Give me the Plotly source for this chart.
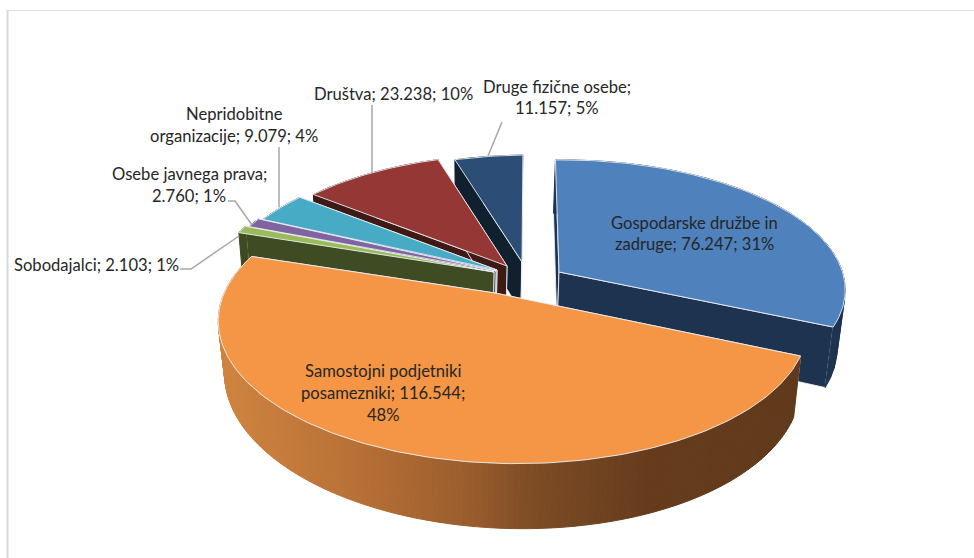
import numpy as np
import plotly.graph_objects as go

# ---------- data ----------
categories = ["Gospodarske družbe in zadruge", "Samostojni podjetniki posamezniki", "Sobodajalci",
              "Osebe javnega prava", "Nepridobitne organizacije", "Društva", "Druge fizične osebe"]
values = [76247, 116544, 2103, 2760, 9079, 23238, 11157]
label_lines = [["Gospodarske družbe in", "zadruge; 76.247; 31%"],
               ["Samostojni podjetniki", "posamezniki; 116.544;", "48%"],
               ["Sobodajalci; 2.103; 1%"],
               ["Osebe javnega prava;", "2.760; 1%"],
               ["Nepridobitne", "organizacije; 9.079; 4%"],
               ["Društva; 23.238; 10%"],
               ["Druge fizične osebe;", "11.157; 5%"]]

# ---------- styling / layout ----------
top_colors = ["#4f81bd", "#f49645", "#9bbb59", "#8064a2", "#47abc6", "#953735", "#2c4d75"]
wall_colors = ["#1d3350", "#623b1d", "#3f4b23", "#2f2440", "#1f4d5a", "#3f1a14", "#10202f"]
# per-slice perspective: apex x,y; half axes B,A; perspective k,q; skew e; depth D; bottom shrink m; bottom shift s
geom = [
    dict(ax=559, ay=272, B=275, A=125.7, k=.122, q=.03, e=4, D=57, m=.022, s=-2),
    dict(ax=495, ay=293, B=287, A=134, k=.213, q=.06, e=0, D=54, m=.023, s=0),
    dict(ax=494, ay=272, B=288, A=138, k=.15, q=.03, e=0, D=50, m=.02, s=-1),
    dict(ax=496, ay=271, B=286, A=134, k=.15, q=.03, e=0, D=50, m=.02, s=-1),
    dict(ax=497, ay=270, B=282, A=130, k=.15, q=.03, e=0, D=50, m=.02, s=-1),
    dict(ax=507, ay=266, B=277, A=128, k=.15, q=.03, e=0, D=50, m=.02, s=-1),
    dict(ax=522, ay=262, B=273, A=123, k=.15, q=.03, e=-1, D=50, m=.02, s=-1),
]
paint_order = [6, 5, 4, 3, 2, 0, 1]
label_pos = {0: [(694, 223), (694, 244)],
             1: [(383, 371), (383, 393), (383, 415)],
             2: [(96, 265)],
             3: [(189, 174), (189, 196)],
             4: [(234, 114), (234, 136)],
             5: [(393, 94)],
             6: [(557, 87), (557, 108)]}
leaders = [[(180, 269), (191, 269), (239, 236)],
           [(228, 201), (235, 201), (252, 225)],
           [(279, 147), (279, 207)],
           [(372, 105), (372, 173)],
           [(502, 122), (488, 156)]]
FONT = dict(family="Lato", size=16.6, color="#262626")
EDGE = "rgba(235,240,245,0.9)"

# ---------- geometry from values ----------
total = sum(values)
frac = np.array(values) / total
edges = np.concatenate([[0], np.cumsum(frac)]) * 2 * np.pi


def project(g, th, bottom=False):
    X, Y = np.sin(th), -np.cos(th)
    w = 1 - g["k"] * Y - g["q"] * X
    dx, dy = (g["B"] * X + g["e"] * Y) / w, g["A"] * Y / w
    if bottom:
        return g["ax"] + g["s"] + dx * (1 - g["m"]), g["ay"] + dy * (1 - g["m"]) + g["D"] / w
    return g["ax"] + dx, g["ay"] + dy


def apex(g, bottom=False):
    if bottom:
        return g["ax"] + g["s"], g["ay"] + g["D"]
    return g["ax"], g["ay"]


fig = go.Figure()


def poly(xs, ys, fill, line=None, width=1):
    fig.add_trace(go.Scatter(x=list(xs), y=list(ys), mode="lines", fill="toself", fillcolor=fill,
                             line=dict(color=line or fill, width=width), hoverinfo="skip", showlegend=False))


def orange_shade(x):
    stops_x = [218, 370, 470, 530, 650, 800]
    r = [208, 181, 154, 127, 102, 97]
    g_ = [132, 111, 93, 77, 60, 58]
    b = [64, 53, 45, 38, 29, 28]
    return "rgb(%d,%d,%d)" % (np.interp(x, stops_x, r), np.interp(x, stops_x, g_), np.interp(x, stops_x, b))


for i in paint_order:
    g, t0, t1 = geom[i], edges[i], edges[i + 1]
    wall = wall_colors[i]
    # cut faces
    for th in (t0, t1):
        ax, ay = apex(g)
        bx, by = apex(g, True)
        px, py = project(g, th)
        qx, qy = project(g, th, True)
        poly([ax, px, qx, bx, ax], [ay, py, qy, by, ay], wall, EDGE, 1)
    # outer wall
    step = np.radians(1) if i == 1 else np.radians(4)
    ths = np.linspace(t0, t1, max(4, int((t1 - t0) / step)) + 1)
    for a, b in zip(ths[:-1], ths[1:]):
        x0, y0 = project(g, a)
        x1, y1 = project(g, b)
        x2, y2 = project(g, b, True)
        x3, y3 = project(g, a, True)
        c = orange_shade((x0 + x1) / 2) if i == 1 else wall
        poly([x0, x1, x2, x3, x0], [y0, y1, y2, y3, y0], c, c, 1)
    # top face
    t = np.linspace(t0, t1, max(8, int((t1 - t0) / np.radians(1))))
    xs, ys = project(g, t)
    ax, ay = apex(g)
    poly(np.r_[ax, xs, ax], np.r_[ay, ys, ay], top_colors[i], EDGE, 1)

for pts in leaders:
    fig.add_trace(go.Scatter(x=[p[0] for p in pts], y=[p[1] for p in pts], mode="lines",
                             line=dict(color="#a6a6a6", width=1.5), hoverinfo="skip", showlegend=False))

annotations = []
for i, lines in enumerate(label_lines):
    for txt, (x, y) in zip(lines, label_pos[i]):
        annotations.append(dict(x=x, y=y, text=txt, showarrow=False, xref="x", yref="y",
                                xanchor="center", yanchor="middle", font=FONT))

fig.update_layout(
    width=974, height=558, margin=dict(l=0, r=0, t=0, b=0), autosize=False,
    paper_bgcolor="white", plot_bgcolor="white", annotations=annotations,
    xaxis=dict(range=[0, 974], visible=False, fixedrange=True),
    yaxis=dict(range=[558, 0], visible=False, fixedrange=True),
    shapes=[dict(type="line", xref="x", yref="y", x0=7.5, x1=7.5, y0=10, y1=558, line=dict(color="#d9d9d9", width=2)),
            dict(type="line", xref="x", yref="y", x0=7, x1=974, y0=10.5, y1=10.5, line=dict(color="#e0e0e0", width=1))],
)
fig.write_html("out.html", config=dict(displayModeBar=False),
               post_script="document.body.style.margin='0';document.body.style.overflow='hidden';")
